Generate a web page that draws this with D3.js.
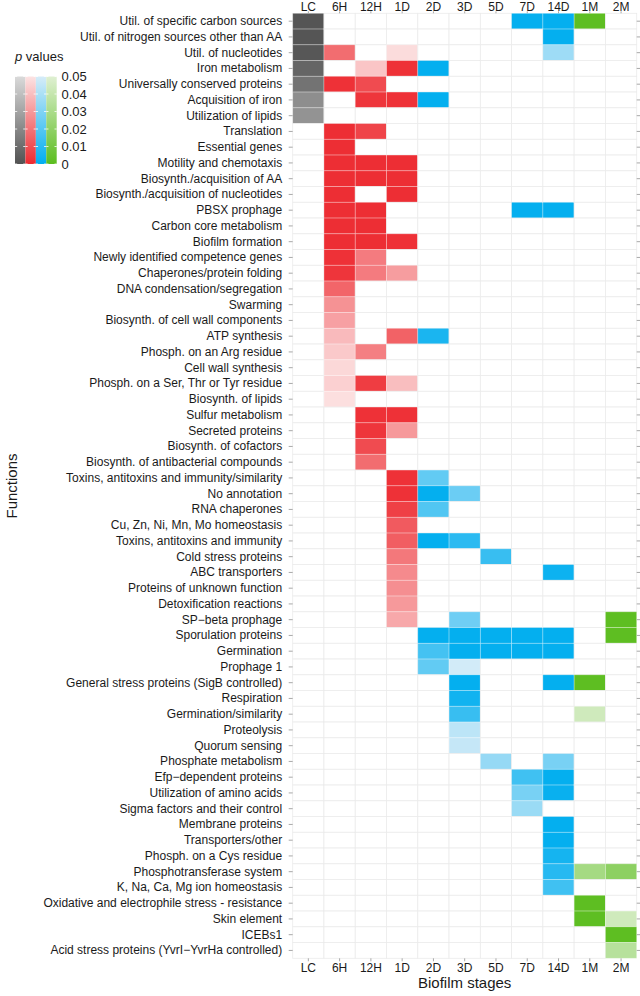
<!DOCTYPE html>
<html><head><meta charset="utf-8">
<script src="https://cdn.jsdelivr.net/npm/d3@7"></script>
<style>
body{margin:0;background:#fff;}
svg{display:block;font-family:"Liberation Sans",Arial,sans-serif;}
</style></head>
<body>
<svg id="chart" width="640" height="996"></svg>
<script>
const functions = [
"Util. of specific carbon sources","Util. of nitrogen sources other than AA","Util. of nucleotides","Iron metabolism",
"Universally conserved proteins","Acquisition of iron","Utilization of lipids","Translation","Essential genes",
"Motility and chemotaxis","Biosynth./acquisition of AA","Biosynth./acquisition of nucleotides","PBSX prophage",
"Carbon core metabolism","Biofilm formation","Newly identified competence genes","Chaperones/protein folding",
"DNA condensation/segregation","Swarming","Biosynth. of cell wall components","ATP synthesis","Phosph. on an Arg residue",
"Cell wall synthesis","Phosph. on a Ser, Thr or Tyr residue","Biosynth. of lipids","Sulfur metabolism","Secreted proteins",
"Biosynth. of cofactors","Biosynth. of antibacterial compounds","Toxins, antitoxins and immunity/similarity","No annotation",
"RNA chaperones","Cu, Zn, Ni, Mn, Mo homeostasis","Toxins, antitoxins and immunity","Cold stress proteins","ABC transporters",
"Proteins of unknown function","Detoxification reactions","SP\u2212beta prophage","Sporulation proteins","Germination","Prophage 1",
"General stress proteins (SigB controlled)","Respiration","Germination/similarity","Proteolysis","Quorum sensing",
"Phosphate metabolism","Efp\u2212dependent proteins","Utilization of amino acids","Sigma factors and their control",
"Membrane proteins","Transporters/other","Phosph. on a Cys residue","Phosphotransferase system","K, Na, Ca, Mg ion homeostasis",
"Oxidative and electrophile stress - resistance","Skin element","ICEBs1","Acid stress proteins (YvrI\u2212YvrHa controlled)"
];
const stages = ["LC","6H","12H","1D","2D","3D","5D","7D","14D","1M","2M"];
const stageGroup = ["grey","red","red","red","blue","blue","blue","blue","blue","green","green"];
const legendGroups = ["grey","red","blue","green"];
const legendBreaks = [0,0.01,0.02,0.03,0.04,0.05];
const legendLabels = ["0","0.01","0.02","0.03","0.04","0.05"];

// p values per stage: [function, p]
const pLC = [["Util. of specific carbon sources",0.001],["Util. of nitrogen sources other than AA",0.001],["Util. of nucleotides",0.002],
["Iron metabolism",0.007],["Universally conserved proteins",0.012],["Acquisition of iron",0.022],["Utilization of lipids",0.024]];
const p6H = [["Util. of nucleotides",0.018],["Universally conserved proteins",0.002],["Translation",0.001],["Essential genes",0.001],
["Motility and chemotaxis",0.001],["Biosynth./acquisition of AA",0.001],["Biosynth./acquisition of nucleotides",0.001],
["PBSX prophage",0.001],["Carbon core metabolism",0.001],["Biofilm formation",0.001],["Newly identified competence genes",0.002],
["Chaperones/protein folding",0.003],["DNA condensation/segregation",0.016],["Swarming",0.028],["Biosynth. of cell wall components",0.032],
["ATP synthesis",0.039],["Phosph. on an Arg residue",0.043],["Cell wall synthesis",0.047],["Phosph. on a Ser, Thr or Tyr residue",0.045],
["Biosynth. of lipids",0.049]];
const p12H = [["Iron metabolism",0.042],["Universally conserved proteins",0.009],["Acquisition of iron",0.003],["Translation",0.007],
["Motility and chemotaxis",0.001],["Biosynth./acquisition of AA",0.001],["PBSX prophage",0.001],["Carbon core metabolism",0.001],
["Biofilm formation",0.001],["Newly identified competence genes",0.022],["Chaperones/protein folding",0.022],
["Phosph. on an Arg residue",0.023],["Phosph. on a Ser, Thr or Tyr residue",0.005],["Sulfur metabolism",0.002],
["Secreted proteins",0.003],["Biosynth. of cofactors",0.009],["Biosynth. of antibacterial compounds",0.018]];
const p1D = [["Util. of nucleotides",0.048],["Iron metabolism",0.002],["Acquisition of iron",0.002],["Motility and chemotaxis",0.001],
["Biosynth./acquisition of AA",0.001],["Biosynth./acquisition of nucleotides",0.001],["Biofilm formation",0.002],
["Chaperones/protein folding",0.031],["ATP synthesis",0.015],["Phosph. on a Ser, Thr or Tyr residue",0.040],["Sulfur metabolism",0.002],
["Secreted proteins",0.030],["Toxins, antitoxins and immunity/similarity",0.002],["No annotation",0.002],["RNA chaperones",0.006],
["Cu, Zn, Ni, Mn, Mo homeostasis",0.013],["Toxins, antitoxins and immunity",0.014],["Cold stress proteins",0.021],
["ABC transporters",0.026],["Proteins of unknown function",0.027],["Detoxification reactions",0.030],["SP\u2212beta prophage",0.034]];
const p2D = [["Iron metabolism",0.001],["Acquisition of iron",0.001],["ATP synthesis",0.006],["Toxins, antitoxins and immunity/similarity",0.023],
["No annotation",0.001],["RNA chaperones",0.019],["Toxins, antitoxins and immunity",0.001],["Sporulation proteins",0.001],
["Germination",0.016],["Prophage 1",0.023]];
const p3D = [["No annotation",0.025],["Toxins, antitoxins and immunity",0.010],["SP\u2212beta prophage",0.026],["Sporulation proteins",0.001],
["Germination",0.001],["Prophage 1",0.049],["General stress proteins (SigB controlled)",0.001],["Respiration",0.004],
["Germination/similarity",0.013],["Proteolysis",0.044],["Quorum sensing",0.046]];
const p5D = [["Cold stress proteins",0.013],["Sporulation proteins",0.001],["Germination",0.001],["Phosphate metabolism",0.035]];
const p7D = [["Util. of specific carbon sources",0.001],["PBSX prophage",0.001],["Sporulation proteins",0.001],["Germination",0.001],
["Efp\u2212dependent proteins",0.015],["Utilization of amino acids",0.028],["Sigma factors and their control",0.036]];
const p14D = [["Util. of specific carbon sources",0.001],["Util. of nitrogen sources other than AA",0.001],["Util. of nucleotides",0.037],
["PBSX prophage",0.001],["ABC transporters",0.003],["Sporulation proteins",0.001],["Germination",0.001],
["General stress proteins (SigB controlled)",0.001],["Phosphate metabolism",0.028],["Efp\u2212dependent proteins",0.001],
["Utilization of amino acids",0.002],["Membrane proteins",0.001],["Transporters/other",0.001],["Phosph. on a Cys residue",0.005],
["Phosphotransferase system",0.009],["K, Na, Ca, Mg ion homeostasis",0.015]];
const p1M = [["Util. of specific carbon sources",0.001],["General stress proteins (SigB controlled)",0.001],["Germination/similarity",0.044],
["Phosphotransferase system",0.028],["Oxidative and electrophile stress - resistance",0.001],["Skin element",0.001]];
const p2M = [["SP\u2212beta prophage",0.001],["Sporulation proteins",0.001],["Phosphotransferase system",0.019],["Skin element",0.044],
["ICEBs1",0.001],["Acid stress proteins (YvrI\u2212YvrHa controlled)",0.035]];
const stageValues = [pLC,p6H,p12H,p1D,p2D,p3D,p5D,p7D,p14D,p1M,p2M];

const groupColors = {
  grey:["#525252","#dadada"],
  red:["#ed2a30","#fce3e3"],
  blue:["#00aeef","#d6ecf8"],
  green:["#5bbd1e","#dff0d2"]
};
const colorScale = {};
for (const g of legendGroups) {
  colorScale[g] = d3.scaleLinear().domain([0,0.05]).range(groupColors[g]).interpolate(d3.interpolateRgb).clamp(true);
}

const svg = d3.select("#chart");
const textColor = "#1a1a1a", tickColor = "#a8a8a8";
const x = d3.scaleBand().domain(stages).range([292.7,636.7]).padding(0);
const y = d3.scaleBand().domain(functions).range([13.3,958.3]).padding(0);

const lookup = new Map();
stages.forEach((s,i)=>stageValues[i].forEach(([f,p])=>lookup.set(s+"|"+f,p)));
const cells = [];
stages.forEach((s,i)=>functions.forEach(f=>{
  const p = lookup.has(s+"|"+f) ? lookup.get(s+"|"+f) : null;
  cells.push({s,f,p,g:stageGroup[i]});
}));
svg.append("g").selectAll("rect").data(cells).join("rect")
  .attr("x",d=>x(d.s)).attr("y",d=>y(d.f))
  .attr("width",x.bandwidth()).attr("height",y.bandwidth())
  .attr("fill",d=>d.p==null?"#ffffff":colorScale[d.g](d.p))
  .attr("stroke",d=>d.p==null?"#ebebeb":"rgba(255,255,255,0.35)")
  .attr("stroke-width",0.8);

function styleAxis(g){
  g.select(".domain").remove();
  g.selectAll(".tick line").attr("stroke",tickColor);
  g.selectAll(".tick text").attr("fill",textColor).attr("font-size",12)
   .attr("font-family","'Liberation Sans',Arial,sans-serif");
}
svg.append("g").attr("transform","translate(292.7,0)")
  .call(d3.axisLeft(y).tickSize(4).tickPadding(6.5)).call(styleAxis);
svg.append("g").attr("transform","translate(636.7,0)")
  .call(d3.axisRight(y).tickSize(4).tickFormat("")).call(styleAxis);
svg.append("g").attr("transform","translate(0,13.3)")
  .call(d3.axisTop(x).tickSize(2).tickPadding(0.6)).call(styleAxis);
svg.append("g").attr("transform","translate(0,958.3)")
  .call(d3.axisBottom(x).tickSize(3).tickPadding(2.5)).call(styleAxis);

svg.append("text").attr("x",464.7).attr("y",988).attr("text-anchor","middle")
  .attr("font-size",15).attr("fill",textColor).text("Biofilm stages");
svg.append("text").attr("transform","translate(16.5,486) rotate(-90)").attr("text-anchor","middle")
  .attr("font-size",15).attr("fill",textColor).text("Functions");

// legend
const lg = svg.append("g");
const lt = lg.append("text").attr("x",15).attr("y",61).attr("font-size",13).attr("fill",textColor);
lt.append("tspan").attr("font-style","italic").text("p");
lt.append("tspan").text(" values");
const ly = d3.scaleLinear().domain([0,0.05]).range([164,76.5]);
const lx = d3.scaleBand().domain(legendGroups).range([15,56.7]);
const defs = svg.append("defs");
legendGroups.forEach(g=>{
  const grad = defs.append("linearGradient").attr("id","grad-"+g)
    .attr("x1",0).attr("x2",0).attr("y1",1).attr("y2",0);
  legendBreaks.forEach(b=>grad.append("stop").attr("offset",b/0.05).attr("stop-color",colorScale[g](b)));
  lg.append("rect").attr("x",lx(g)).attr("y",ly(0.05)).attr("width",lx.bandwidth())
    .attr("height",ly(0)-ly(0.05)).attr("fill","url(#grad-"+g+")");
  legendBreaks.forEach(b=>{
    lg.append("line").attr("x1",lx(g)).attr("x2",lx(g)+2.2).attr("y1",ly(b)).attr("y2",ly(b))
      .attr("stroke","#fff").attr("stroke-width",0.8);
    lg.append("line").attr("x1",lx(g)+lx.bandwidth()-2.2).attr("x2",lx(g)+lx.bandwidth()).attr("y1",ly(b)).attr("y2",ly(b))
      .attr("stroke","#fff").attr("stroke-width",0.8);
  });
});
lg.selectAll("text.lab").data(legendBreaks).join("text").attr("class","lab")
  .attr("x",61.5).attr("y",d=>ly(d)).attr("dy","0.35em").attr("font-size",13).attr("fill",textColor)
  .text((d,i)=>legendLabels[i]);
</script>
</body></html>
